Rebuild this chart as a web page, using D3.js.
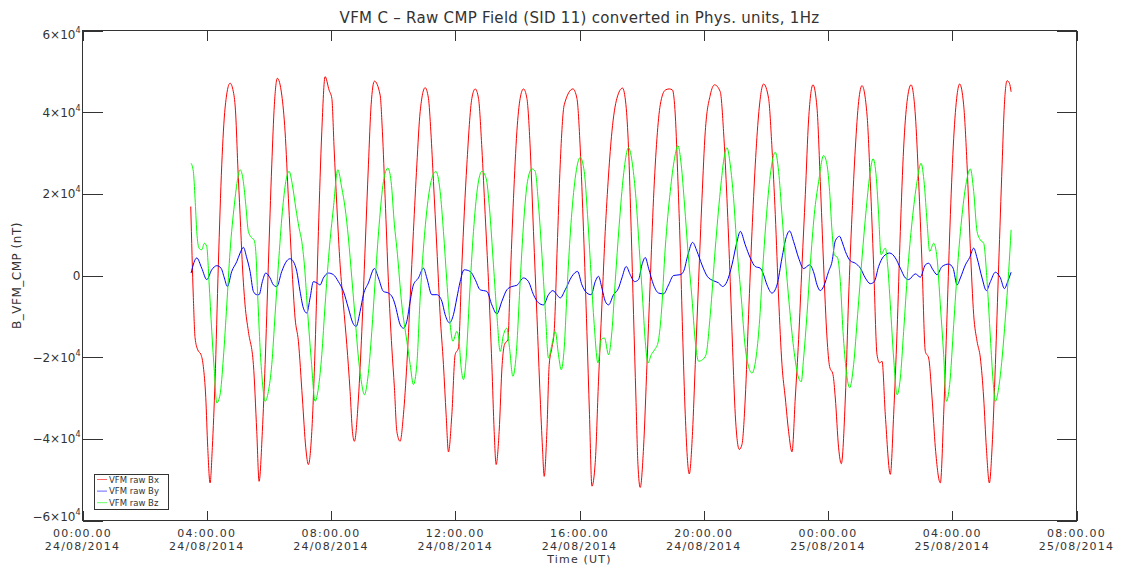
<!DOCTYPE html>
<html>
<head>
<meta charset="utf-8">
<script src="https://cdn.jsdelivr.net/npm/d3@7"></script>
<style>
  html, body { margin: 0; padding: 0; background: #fff; }
  svg { display: block; }
  text { font-family: "DejaVu Sans", "Liberation Sans", sans-serif; fill: #333; }
</style>
</head>
<body>
<svg id="chart" width="1128" height="567"></svg>
<script>
// Samples: [minutes since 24/08/2014 00:00 UT, field in nT]
const bx = [[209.1,16900],[214.1,-5400],[217.4,-15200],[222.6,-18200],[229.0,-19400],[233.4,-22300],[238.1,-29900],[241.9,-42100],[246.4,-50800],[250.8,-42100],[256.0,-25900],[262.4,2600],[269.0,27100],[275.4,41000],[285.0,47100],[291.4,45000],[296.0,39300],[299.9,27100],[304.4,14900],[308.8,2600],[314.0,-7200],[320.4,-13700],[330.1,-21800],[336.6,-38200],[341.1,-50400],[347.4,-38200],[352.7,-21800],[359.0,2600],[365.6,27100],[370.6,41800],[376.4,48300],[384.9,44200],[391.3,35200],[397.7,18900],[404.3,2600],[410.6,-10400],[417.0,-16100],[424.7,-30000],[431.3,-42200],[436.3,-46300],[442.9,-38200],[449.3,-17700],[455.7,10800],[462.2,35200],[468.6,48700],[476.3,45400],[481.6,43400],[486.0,31200],[491.2,17300],[497.6,2600],[504.0,-7200],[510.5,-16900],[516.9,-28400],[521.4,-38200],[525.2,-40600],[533.0,-30000],[539.5,-13700],[545.9,6700],[552.3,27100],[557.5,41800],[563.9,47600],[574.9,44200],[579.3,35200],[584.6,18900],[590.9,-1500],[597.5,-17700],[602.5,-27500],[607.2,-38200],[613.5,-40600],[619.9,-34100],[626.5,-21800],[632.9,-5500],[639.2,10800],[645.8,27100],[652.2,40100],[661.8,46000],[668.2,43400],[672.9,35200],[677.9,23000],[684.5,6700],[690.8,-9600],[697.2,-21800],[702.4,-34100],[706.9,-43200],[713.4,-34100],[719.8,-19400],[726.2,-17700],[732.8,2600],[742.4,27100],[752.1,43400],[758.5,45700],[764.9,43400],[771.4,31200],[777.8,14900],[784.2,-1500],[790.7,-21800],[795.2,-38200],[799.0,-46300],[804.8,-38200],[810.6,-21800],[815.1,-16900],[821.7,-15700],[826.1,-1500],[832.5,18900],[839.0,35200],[845.4,43400],[851.8,45700],[858.4,43400],[864.8,31200],[871.1,10800],[877.7,-9600],[884.1,-30000],[888.5,-42200],[891.8,-49200],[897.0,-38200],[901.5,-21800],[906.7,-17700],[911.1,-13700],[916.9,6700],[922.7,27100],[930.5,41800],[947.3,45700],[955.0,43400],[961.4,31200],[967.8,10800],[974.3,-13700],[979.3,-34100],[984.0,-51600],[990.4,-45800],[996.7,-25900],[1003.3,-7200],[1009.7,10800],[1016.1,24600],[1022.6,35200],[1032.3,43400],[1043.1,45900],[1049.7,41800],[1054.7,31200],[1059.9,10800],[1064.4,-9600],[1069.0,-30000],[1072.9,-46300],[1077.3,-51900],[1083.7,-42200],[1090.3,-21800],[1096.6,-1500],[1103.0,18900],[1109.6,33600],[1116.0,41800],[1125.6,45400],[1133.4,45700],[1139.7,45400],[1145.0,39300],[1150.2,23000],[1154.6,6700],[1159.1,-13700],[1164.3,-34100],[1172.0,-48600],[1178.4,-38200],[1183.6,-21800],[1190.0,-1500],[1196.6,18900],[1202.9,35200],[1212.6,44200],[1220.9,46700],[1231.9,45000],[1238.3,35200],[1244.8,18900],[1251.2,-1500],[1255.7,-17700],[1260.9,-34100],[1268.6,-42600],[1273.8,-41400],[1280.2,-30000],[1286.6,-9600],[1293.2,10800],[1299.5,27100],[1305.9,39300],[1315.6,46900],[1325.2,43400],[1331.8,31200],[1338.2,14900],[1344.6,-5500],[1351.1,-21800],[1357.5,-30000],[1363.9,-38200],[1370.5,-43200],[1376.8,-30000],[1383.2,-15700],[1389.8,2600],[1396.2,19800],[1402.5,38100],[1411.0,46700],[1418.8,41000],[1425.1,23000],[1431.5,2600],[1438.1,-15300],[1443.1,-22300],[1449.7,-24300],[1454.1,-30000],[1460.5,-42200],[1465.7,-46100],[1473.5,-30000],[1479.8,-5500],[1486.4,14900],[1492.8,31200],[1499.2,42600],[1505.7,46500],[1515.4,39300],[1521.7,23000],[1528.1,2600],[1534.7,-19400],[1539.7,-21400],[1544.4,-21000],[1550.7,-34100],[1560.4,-48700],[1566.8,-34100],[1573.4,-13700],[1579.7,10800],[1586.1,31200],[1592.7,42600],[1600.4,46700],[1608.7,39300],[1615.1,23000],[1621.7,2600],[1628.0,-18600],[1634.4,-20200],[1641.0,-30000],[1647.4,-42200],[1657.0,-50800],[1663.4,-34100],[1670.0,-9600],[1676.4,14900],[1682.8,33600],[1689.3,44200],[1694.3,46900],[1702.0,41800],[1708.6,27100],[1715.0,6700],[1721.4,-9600],[1727.9,-16100],[1734.3,-20200],[1740.7,-30000],[1745.9,-42200],[1751.7,-50800],[1756.9,-42200],[1763.3,-21800],[1769.7,2600],[1776.3,27100],[1780.7,41800],[1785.9,47700],[1790.4,47100],[1793.7,45000]];

const by = [[209.7,600],[220.7,4300],[230.3,1800],[240.0,-1000],[249.7,1400],[259.3,2400],[267.6,1800],[274.0,-600],[279.8,-2700],[288.3,1000],[298.0,3400],[304.4,5500],[310.7,6900],[317.3,4300],[323.7,1000],[330.1,-3900],[336.6,-4700],[341.1,-4700],[347.4,-1500],[354.0,600],[362.3,-600],[368.7,-2300],[375.3,-2700],[384.9,1000],[394.6,3600],[401.0,4100],[407.4,3400],[413.9,1000],[420.3,-3900],[426.7,-8000],[433.2,-9200],[439.6,-5500],[446.0,-1500],[452.6,-1800],[458.9,-2300],[465.3,-600],[475.0,600],[484.6,200],[494.3,-1500],[504.0,-3900],[513.6,-8000],[522.1,-11600],[528.5,-12500],[536.2,-8800],[542.6,-4700],[552.3,-1800],[563.9,1700],[571.6,-600],[581.3,-3900],[590.9,-4300],[600.6,-5900],[603.9,-7200],[613.5,-12000],[619.9,-12900],[626.5,-11200],[632.9,-6300],[639.2,-2300],[648.9,-600],[658.6,1800],[665.1,-600],[674.8,-4700],[684.5,-4700],[694.1,-6300],[700.5,-9600],[708.8,-11600],[716.5,-9600],[723.1,-5500],[729.5,-1500],[737.2,1400],[748.8,1000],[758.5,-1000],[768.1,-3500],[781.1,-3900],[790.7,-7200],[800.4,-9400],[810.1,-6300],[819.7,-3500],[829.4,-2700],[839.0,-2400],[851.8,-600],[861.5,-1500],[871.1,-4700],[880.8,-6700],[890.4,-7200],[900.1,-4700],[908.6,-3700],[916.3,-4700],[922.7,-5500],[932.4,-3500],[945.3,-200],[956.2,1000],[964.7,-2300],[974.3,-4300],[982.6,-4700],[990.4,-1500],[996.7,-200],[1003.3,-3100],[1009.7,-6300],[1016.1,-7200],[1025.7,-4700],[1035.4,-3100],[1041.9,-600],[1050.2,2200],[1058.0,200],[1066.3,-1500],[1074.0,-1000],[1080.6,2600],[1087.0,4400],[1093.4,1800],[1103.0,-2300],[1112.7,-4300],[1122.3,-4500],[1132.0,-2300],[1141.7,0],[1154.6,200],[1161.0,1000],[1169.5,5100],[1178.4,8100],[1187.0,5900],[1196.6,2600],[1206.8,-200],[1218.9,-1300],[1228.6,-1800],[1236.4,-2700],[1244.8,-1500],[1254.5,2600],[1264.2,8300],[1270.6,10800],[1280.2,7500],[1289.9,4300],[1299.5,2200],[1309.2,1800],[1315.6,200],[1322.2,-2300],[1331.8,-4300],[1341.5,-2300],[1351.1,4300],[1358.9,9200],[1365.8,10900],[1373.6,8300],[1383.2,4300],[1392.9,1700],[1404.5,2600],[1412.8,600],[1418.8,-2300],[1425.1,-3700],[1431.5,-2700],[1441.2,1000],[1447.8,3400],[1454.1,8500],[1462.4,9600],[1467.1,8300],[1473.5,5900],[1483.1,3600],[1492.8,3000],[1502.5,1800],[1512.1,-600],[1521.7,-2000],[1529.4,-1500],[1537.8,2200],[1547.5,4700],[1559.1,5500],[1570.1,4300],[1579.7,1800],[1589.4,-600],[1595.8,-1000],[1608.7,400],[1618.4,-400],[1628.0,2600],[1634.4,3000],[1642.7,1400],[1650.6,200],[1660.3,2200],[1673.1,2800],[1681.6,1800],[1689.3,-2300],[1695.7,-600],[1705.4,2600],[1713.6,4400],[1721.4,6700],[1727.9,4300],[1737.6,-600],[1745.9,-3700],[1753.7,-1500],[1763.3,800],[1773.0,-600],[1780.7,-3200],[1787.1,-1500],[1793.7,800]];

const bz = [[209.7,27500],[214.1,25500],[217.4,18900],[220.7,10800],[225.1,6700],[230.3,6300],[235.4,7900],[240.0,7100],[244.4,-1500],[249.7,-13700],[254.7,-23500],[259.3,-31200],[265.7,-29200],[272.1,-20200],[278.7,-7200],[285.0,5900],[293.3,17300],[299.9,23800],[304.4,25900],[310.7,23000],[315.4,17300],[320.4,10800],[327.0,9200],[331.4,8700],[334.7,5900],[338.6,-5500],[343.0,-17700],[347.4,-25900],[352.7,-30800],[359.0,-28400],[365.6,-21800],[372.0,-9600],[378.4,2600],[386.1,15700],[392.7,23000],[399.0,25500],[405.4,22200],[412.0,16500],[418.4,11600],[423.6,8300],[428.6,2600],[435.2,-9600],[441.6,-20200],[449.3,-30800],[455.7,-27500],[462.2,-19400],[468.6,-7200],[476.3,5900],[484.6,16500],[493.1,25900],[500.9,21400],[507.3,16500],[513.6,9200],[520.2,-600],[526.6,-10400],[533.0,-20200],[539.5,-26700],[544.5,-29200],[551.1,-25100],[558.8,-13700],[565.2,-1500],[573.0,12400],[581.3,23000],[589.8,26300],[596.1,23000],[602.5,12400],[607.2,6700],[616.8,-7200],[626.5,-16100],[632.9,-21800],[639.2,-26700],[645.8,-21800],[652.2,-5500],[658.6,6700],[666.3,17300],[674.8,23800],[682.5,25500],[690.8,20600],[697.2,10800],[703.8,-1500],[710.2,-12000],[715.4,-16100],[723.1,-13700],[727.5,-16100],[730.8,-21800],[735.9,-25500],[741.1,-20200],[747.4,-5500],[755.2,10800],[762.9,21400],[771.4,25500],[779.7,23800],[786.1,16500],[793.8,2600],[800.4,-9600],[806.8,-18600],[813.2,-14500],[819.7,-12900],[824.8,-17700],[831.3,-24700],[837.7,-19400],[845.4,-1500],[851.8,12400],[859.5,23000],[868.0,26100],[874.4,25500],[880.8,17300],[887.4,5100],[893.7,-8000],[900.1,-20200],[906.7,-16900],[913.1,-13700],[919.4,-19400],[924.7,-23100],[930.5,-17700],[936.8,-1500],[943.4,12400],[951.7,23800],[961.4,28900],[969.1,25500],[975.5,14900],[982.0,1000],[988.4,-12000],[995.6,-21400],[1002.0,-15700],[1008.3,-15300],[1016.1,-19400],[1022.6,-13700],[1029.0,-1500],[1036.7,12400],[1045.0,24600],[1054.7,31300],[1062.4,27100],[1069.0,18900],[1075.4,6700],[1081.8,-5500],[1087.0,-16100],[1092.2,-21400],[1098.6,-19400],[1104.9,-18200],[1111.5,-16500],[1117.9,-9600],[1125.6,6700],[1135.3,20600],[1143.6,28700],[1150.2,31800],[1156.5,27100],[1162.9,17300],[1169.5,5900],[1177.2,-5500],[1183.6,-16100],[1190.0,-21000],[1197.7,-20600],[1204.3,-19400],[1212.6,-9600],[1222.3,6700],[1231.9,20600],[1240.2,29500],[1244.8,31300],[1251.2,27100],[1257.6,18900],[1264.2,6700],[1272.5,-5500],[1280.2,-17700],[1286.6,-22300],[1293.2,-23900],[1300.9,-20200],[1307.3,-12000],[1313.6,1000],[1320.2,13200],[1328.5,24600],[1338.2,30200],[1344.6,25500],[1351.1,14900],[1357.5,4300],[1365.2,-7200],[1373.6,-17700],[1383.2,-25100],[1388.4,-26000],[1392.9,-20200],[1399.4,-9600],[1405.8,2600],[1413.5,14900],[1421.9,23000],[1431.5,29400],[1438.1,27100],[1443.1,20600],[1447.8,10800],[1452.2,5100],[1458.6,4300],[1463.8,-1500],[1469.0,-13700],[1475.4,-23500],[1481.8,-27500],[1489.5,-21800],[1497.2,-9600],[1505.7,4300],[1514.0,16500],[1521.7,25500],[1527.0,28600],[1533.4,23800],[1537.8,14900],[1542.4,5100],[1550.7,6700],[1555.2,2600],[1560.4,-7200],[1566.8,-20200],[1573.4,-29200],[1579.7,-25100],[1586.1,-13700],[1593.8,1000],[1602.4,13200],[1612.0,23000],[1619.7,27500],[1626.1,22200],[1631.3,13200],[1636.4,5900],[1644.1,7900],[1650.6,4300],[1657.0,-7200],[1663.4,-19400],[1668.7,-30800],[1675.0,-26700],[1682.8,-12000],[1690.5,2600],[1699.0,14900],[1707.4,23000],[1715.0,26100],[1721.4,20600],[1727.9,10800],[1734.3,8700],[1740.7,7900],[1747.3,-1500],[1753.7,-15300],[1758.9,-25900],[1763.3,-30800],[1769.7,-27500],[1776.3,-20200],[1782.6,-10400],[1789.0,1000],[1793.7,11200]];

const seriesNames = ["VFM raw Bx", "VFM raw By", "VFM raw Bz"];
const seriesColors = ["#ff0000", "#0000ff", "#00ff00"];
const yTickValues = [-60000, -40000, -20000, 0, 20000, 40000, 60000];
const yTickMantissa = ["\u22126", "\u22124", "\u22122", "0", "2", "4", "6"];
const timeStart = Date.UTC(2014, 7, 24, 0, 0, 0);
const timeEnd = Date.UTC(2014, 7, 25, 8, 0, 0);
const titleText = "VFM C \u2013 Raw CMP Field (SID 11) converted in Phys. units, 1Hz";
const xTitle = "Time (UT)";
const yTitle = "B_VFM_CMP (nT)";

const svg = d3.select("#chart");
const L = 82.5, R = 1076.5, T = 30.5, B = 520.5;
const axisColor = "#333";

const x = d3.scaleUtc().domain([new Date(timeStart), new Date(timeEnd)]).range([L, R]);
const y = d3.scaleLinear().domain([-60000, 60000]).range([B, T]);
const toDate = m => new Date(timeStart + m * 60000);

// traces
const line = d3.line()
  .x(d => x(toDate(d[0])))
  .y(d => y(d[1]))
  .curve(d3.curveMonotoneX);

const plot = svg.append("g");
[bx, by, bz].forEach((s, i) => {
  plot.append("path")
    .datum(s)
    .attr("d", line)
    .attr("fill", "none")
    .attr("stroke", seriesColors[i])
    .attr("stroke-width", 1);
});

// frame
svg.append("rect")
  .attr("x", L).attr("y", T).attr("width", R - L).attr("height", B - T)
  .attr("fill", "none").attr("stroke", axisColor).attr("stroke-width", 1)
  .attr("shape-rendering", "crispEdges");

// x axis (bottom and top, ticks pointing inward)
const xTicks = d3.utcHour.every(4).range(new Date(timeStart), new Date(timeEnd + 1));
const fmtTime = d3.utcFormat("%H:%M.%S");
const fmtDate = d3.utcFormat("%d/%m/%Y");

const xAxisB = d3.axisBottom(x).tickValues(xTicks).tickSize(-10).tickFormat("");
const xAxisT = d3.axisTop(x).tickValues(xTicks).tickSize(-10).tickFormat("");
const gxb = svg.append("g").attr("transform", `translate(0,${B})`).call(xAxisB);
const gxt = svg.append("g").attr("transform", `translate(0,${T})`).call(xAxisT);
[gxb, gxt].forEach(g => {
  g.select(".domain").remove();
  g.selectAll("line").attr("stroke", axisColor).attr("shape-rendering", "crispEdges");
});

const xl = svg.append("g").attr("font-size", 11).attr("letter-spacing", 1.2);
xTicks.forEach(t => {
  const tx = x(t);
  xl.append("text").attr("x", tx).attr("y", 537).attr("text-anchor", "middle").text(fmtTime(t));
  xl.append("text").attr("x", tx).attr("y", 550).attr("text-anchor", "middle").text(fmtDate(t));
});
svg.append("text").attr("x", (L + R) / 2).attr("y", 563).attr("text-anchor", "middle")
  .attr("font-size", 11).attr("letter-spacing", 1.2).text(xTitle);

// y axis (left and right, ticks pointing inward)
const yAxisL = d3.axisLeft(y).tickValues(yTickValues).tickSize(-20).tickFormat("");
const yAxisR = d3.axisRight(y).tickValues(yTickValues).tickSize(-20).tickFormat("");
const gyl = svg.append("g").attr("transform", `translate(${L},0)`).call(yAxisL);
const gyr = svg.append("g").attr("transform", `translate(${R},0)`).call(yAxisR);
[gyl, gyr].forEach(g => {
  g.select(".domain").remove();
  g.selectAll("line").attr("stroke", axisColor).attr("shape-rendering", "crispEdges");
});

// end labels are nudged inward so they stay beside the frame
const yl = svg.append("g").attr("font-size", 12);
const yMax = d3.max(yTickValues), yMinV = d3.min(yTickValues);
yTickValues.forEach((v, i) => {
  const nudge = v === yMax ? 4 : (v === yMinV ? -4 : 0);
  const t = yl.append("text").attr("x", L - 2).attr("y", y(v) + 4.5 + nudge).attr("text-anchor", "end");
  if (v === 0) {
    t.text("0");
  } else {
    t.append("tspan").text(yTickMantissa[i] + "\u00d710");
    t.append("tspan").attr("dy", -6).attr("font-size", 8).text("4");
  }
});

svg.append("text")
  .attr("transform", `translate(21,${(T + B) / 2}) rotate(-90)`)
  .attr("text-anchor", "middle").attr("font-size", 12).attr("letter-spacing", 0.5).text(yTitle);

// title
svg.append("text").attr("x", (L + R) / 2).attr("y", 23).attr("text-anchor", "middle")
  .attr("font-size", 15).attr("letter-spacing", 0.3).text(titleText);

// legend
const lg = svg.append("g");
lg.append("rect").attr("x", 94.5).attr("y", 474.5).attr("width", 74).attr("height", 35)
  .attr("fill", "#fff").attr("stroke", axisColor).attr("shape-rendering", "crispEdges");
seriesNames.forEach((name, i) => {
  const ly = 479.5 + i * 11.6;
  lg.append("line").attr("x1", 97).attr("x2", 107).attr("y1", ly).attr("y2", ly)
    .attr("stroke", seriesColors[i]).attr("stroke-width", 1).attr("opacity", 0.6);
  lg.append("text").attr("x", 109).attr("y", ly + 3).attr("font-size", 8.5).text(name);
});
</script>
</body>
</html>
